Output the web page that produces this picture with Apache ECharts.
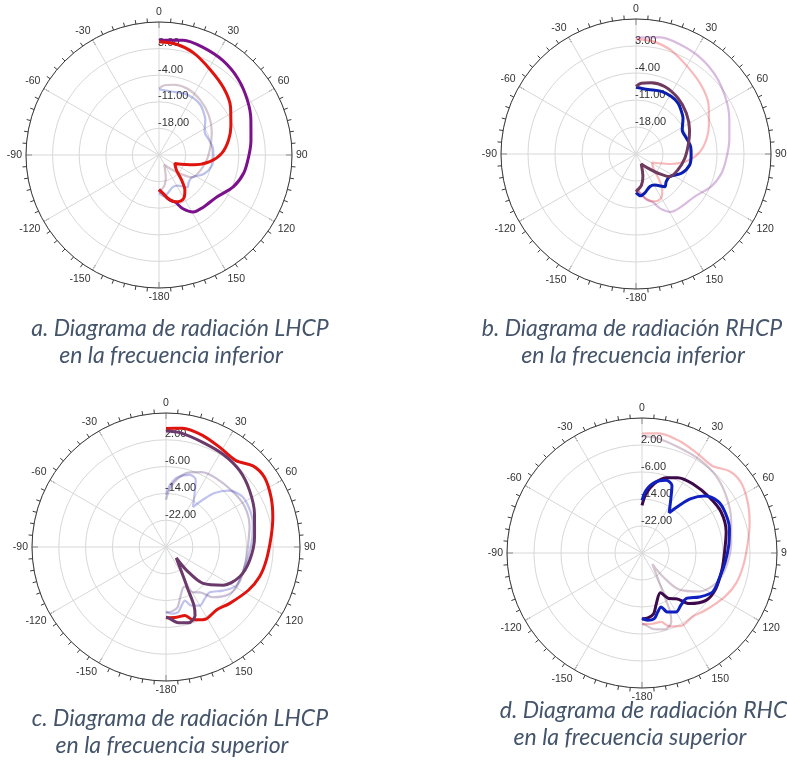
<!DOCTYPE html>
<html>
<head>
<meta charset="utf-8">
<script src="https://cdn.jsdelivr.net/npm/echarts@6/dist/echarts.min.js"></script>
<style>
  html, body { margin: 0; padding: 0; background: #ffffff; }
  #chart { width: 787px; height: 767px; }
</style>
</head>
<body>
<div id="chart"></div>
<script>
// Radiation patterns: each curve is a list of [angle in degrees, gain in dB].
// Lower frequency band
const lowLhcpCut1 = [[0,5.2],[12,5.9],[22,5.6],[34,5.0],[46,3.9],[58,2.4],[69,0.9],[81,-0.5],[91,-1.4],[102,-2.2],[113,-3.7],[126,-6.2],[140,-7.0],[149,-7.5],[156,-9.5],[161,-11.9],[167,-12.9],[174,-14.8],[180,-15.9]];
const lowLhcpCut2 = [[0,4.8],[9,4.5],[18.5,3.4],[31,1.2],[44,-0.5],[56,-2.3],[68,-4.6],[78,-6.3],[88.5,-8.5],[97.5,-11.5],[106,-15.6],[118,-20.3],[131,-18.9],[138,-16.1],[143.7,-13.5],[149.4,-12.0],[155,-11.6],[161.3,-12.0],[168.3,-13.3],[174,-14.8],[180,-15.9]];
const lowRhcpCut1 = [[0,-7.7],[10.5,-8.0],[22,-7.5],[31.6,-7.5],[39.7,-7.9],[45,-8.6],[52.8,-9.7],[62.6,-11.5],[72.7,-11.3],[82.4,-10.7],[90.7,-10.7],[101.6,-10.8],[113,-12.2],[124,-14.5],[132.4,-14.4],[138.7,-13.7],[149,-15.6],[157.3,-15.8],[167.6,-14.6],[173.6,-14.1],[180,-15.0]];
const lowRhcpCut2 = [[0,-7.5],[4.3,-6.6],[12,-6.1],[23,-6.0],[37,-6.9],[51,-8.2],[66,-9.8],[78.5,-11.1],[95,-12.3],[111,-13.4],[124,-14.5],[131,-17.4],[140,-20.2],[152,-22.1],[163,-18.9],[170,-16.8],[177,-15.7],[180,-15.2]];

// Upper frequency band
const highLhcpCut1 = [[0,5.4],[8,5.8],[18.5,5.0],[28.4,3.8],[39,3.2],[47,5.5],[54.7,6.0],[64.7,4.7],[74.4,3.1],[84.6,1.5],[97.5,0.2],[107.7,-0.7],[117.5,-2.2],[131.5,-4.6],[141,-5.9],[152,-5.5],[159.6,-6.8],[164.5,-8.8],[171.4,-8.8],[180,-8.9]];
const highLhcpCut2 = [[0,4.65],[7,4.4],[19.6,3.1],[31.6,2.5],[44,1.65],[56,0.1],[69.5,-1.8],[83.6,-3.4],[99,-4.7],[112,-6.3],[123.8,-9.5],[134.5,-14.5],[138.5,-20.7],[137,-25.5],[148,-21.2],[152.7,-15.5],[154.4,-10.7],[157,-7.8],[163.6,-6.4],[170.7,-7.1],[178,-8.8],[180,-9.0]];
const highRhcpCut1 = [[0,-14.4],[3.7,-11.4],[9.9,-8.8],[18.3,-7.3],[23.9,-8.1],[27.4,-11.3],[34,-15.6],[38,-12.1],[42,-8.3],[47.6,-5.0],[55.7,-2.8],[64.2,-2.6],[74.4,-3.1],[85,-4.2],[96.2,-5.2],[108.4,-5.9],[118.9,-6.1],[127.5,-8.6],[136,-11.2],[143.3,-10.7],[150,-9.8],[156.5,-10.9],[160.6,-13.0],[165.1,-11.9],[169.4,-10.2],[175.2,-10.0],[180,-10.7]];
const highRhcpCut2 = [[0,-15.9],[3.9,-12.4],[10.1,-9.1],[17.7,-6.6],[25.3,-5.3],[36.2,-4.6],[50.3,-4.1],[62.6,-3.6],[76,-4.3],[90.7,-5.6],[101,-5.8],[115.7,-5.7],[126.5,-6.4],[137,-9.5],[143.3,-13.1],[148.8,-14.2],[155.2,-17.0],[164.2,-14.4],[169.1,-11.7],[174.7,-10.7],[180,-10.4]];

// Radial scales (dB)
const lowScale = { min: -25, max: 10, step: 7 };
const highScale = { min: -30, max: 10, step: 8 };

// Captions
const captions = [
  ['a. Diagrama de radiación LHCP', 'en la frecuencia inferior'],
  ['b. Diagrama de radiación RHCP', 'en la frecuencia inferior'],
  ['c. Diagrama de radiación LHCP', 'en la frecuencia superior'],
  ['d. Diagrama de radiación RHCP', 'en la frecuencia superior']
];

// capX: [line 1 centre, line 2 centre], capY: [line 1, line 2]
const panels = [
  { center: [159, 155], radius: 133, scale: lowScale, capX: [180, 171], capY: [329, 356] },
  { center: [636, 154], radius: 135, scale: lowScale, capX: [632, 633], capY: [329, 356] },
  { center: [166, 547], radius: 134, scale: highScale, capX: [180, 172], capY: [719, 746] },
  { center: [642, 553], radius: 135, scale: highScale, capX: [650, 630], capY: [711, 738] }
];

const inkColor = '#3a3a3a';
const gridColor = '#d8d8d8';
const axisFont = 'Liberation Sans, Arial, sans-serif';

function angleLabel(v) {
  if (v >= 360) return '';
  if (v === 180) return '-180';
  return String(v > 180 ? v - 360 : v);
}

const polar = panels.map(p => ({ center: p.center, radius: p.radius }));

const angleAxis = panels.map((p, i) => ({
  polarIndex: i,
  type: 'value',
  min: 0, max: 360, interval: 30,
  startAngle: 90, clockwise: true,
  axisLine: { lineStyle: { color: inkColor, width: 1 } },
  axisTick: { show: true, inside: true, length: 6, lineStyle: { color: inkColor, width: 1 } },
  minorTick: { show: true, splitNumber: 6, length: -4, lineStyle: { color: inkColor, width: 1 } },
  splitLine: { show: true, lineStyle: { color: gridColor, width: 1 } },
  axisLabel: { formatter: angleLabel, color: '#333', fontSize: 10.5, fontFamily: axisFont, margin: 4 }
}));

const radiusAxis = panels.map((p, i) => ({
  polarIndex: i,
  type: 'value',
  min: p.scale.min, max: p.scale.max, interval: p.scale.step,
  axisLine: { show: false },
  axisTick: { show: false },
  splitLine: { show: true, lineStyle: { color: gridColor, width: 1 } },
  axisLabel: {
    inside: true,
    margin: 1,
    formatter: v => (v <= p.scale.min || v >= p.scale.max) ? '' : v.toFixed(2),
    color: '#333', fontSize: 11, fontFamily: axisFont,
    align: 'left', verticalAlign: 'bottom'
  }
}));

function curve(points, polarIndex, color, faded) {
  return {
    type: 'line',
    coordinateSystem: 'polar',
    polarIndex: polarIndex,
    data: points.map(([ang, db]) => [db, ang]),
    symbol: 'none',
    smooth: 0.3,
    silent: true,
    z: faded ? 2 : 3,
    lineStyle: { color: color, width: faded ? 2.2 : 3, opacity: faded ? 0.32 : 1 }
  };
}

const series = [
  // a: LHCP, lower band
  curve(lowRhcpCut1, 0, '#2b3fc0', true),
  curve(lowRhcpCut2, 0, '#7a4a6e', true),
  curve(lowLhcpCut1, 0, '#7b128c', false),
  curve(lowLhcpCut2, 0, '#e0140f', false),
  // b: RHCP, lower band
  curve(lowLhcpCut1, 1, '#8a2a9a', true),
  curve(lowLhcpCut2, 1, '#e8242a', true),
  curve(lowRhcpCut1, 1, '#0a1fb0', false),
  curve(lowRhcpCut2, 1, '#6e3a5e', false),
  // c: LHCP, upper band
  curve(highRhcpCut1, 2, '#3a40c8', true),
  curve(highRhcpCut2, 2, '#5a3a7a', true),
  curve(highLhcpCut1, 2, '#e0140f', false),
  curve(highLhcpCut2, 2, '#6b3a6b', false),
  // d: RHCP, upper band
  curve(highLhcpCut1, 3, '#e8242a', true),
  curve(highLhcpCut2, 3, '#7a4a6e', true),
  curve(highRhcpCut2, 3, '#3c0a4a', false),
  curve(highRhcpCut1, 3, '#1020c0', false)
];

const graphic = [];
panels.forEach((p, i) => {
  [0, 1].forEach(k => {
    graphic.push({
      type: 'text',
      x: p.capX[k], y: p.capY[k],
      silent: true,
      style: {
        text: captions[i][k],
        font: 'italic 23px Lato, "Open Sans", sans-serif',
        fill: '#44546a',
        align: 'center', verticalAlign: 'middle',
        textAlign: 'center', textVerticalAlign: 'middle'
      }
    });
  });
});

const chart = echarts.init(document.getElementById('chart'), null, { renderer: 'canvas' });
chart.setOption({
  animation: false,
  backgroundColor: '#ffffff',
  polar: polar,
  angleAxis: angleAxis,
  radiusAxis: radiusAxis,
  series: series,
  graphic: graphic
});
</script>
</body>
</html>
